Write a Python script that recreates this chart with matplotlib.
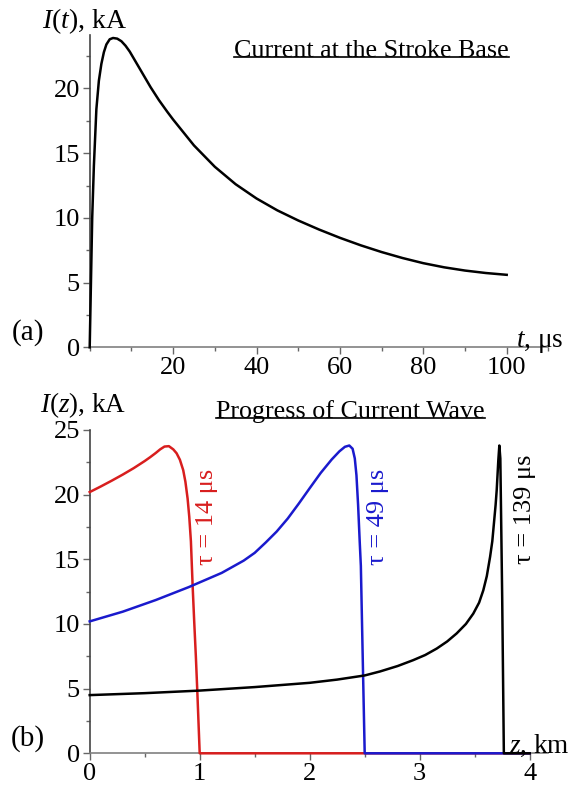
import matplotlib
matplotlib.use("Agg")
import matplotlib.pyplot as plt
from matplotlib.lines import Line2D
from matplotlib.ticker import MultipleLocator

plt.rcParams["font.family"] = ["Liberation Serif", "DejaVu Serif"]
plt.rcParams["mathtext.fontset"] = "custom"
plt.rcParams["mathtext.rm"] = "Liberation Serif"
plt.rcParams["mathtext.it"] = "Liberation Serif:italic"

# (a) current at the stroke base
t_us = [0, 0.3, 0.6, 1.0, 1.6, 2.2, 2.8, 3.4, 4.0, 4.8, 5.6, 6.6, 7.6, 8.6,
        9.6, 10.6, 11.6, 12.6, 13.6, 14.6, 15.6, 16.6, 17.6, 18.6, 20, 25,
        30, 35, 40, 45, 50, 55, 60, 65, 70, 75, 80, 85, 90, 95, 100]
I_base = [0, 5.0, 10.0, 14.0, 18.4, 20.6, 21.9, 22.8, 23.4, 23.8, 23.9, 23.85,
          23.65, 23.3, 22.85, 22.3, 21.75, 21.2, 20.65, 20.1, 19.6, 19.1,
          18.65, 18.2, 17.6, 15.6, 13.95, 12.6, 11.5, 10.58, 9.8, 9.1, 8.46,
          7.88, 7.36, 6.9, 6.5, 6.18, 5.93, 5.74, 5.6]

# (b) current wave along the channel at three moments
z_red = [0, 0.1, 0.2, 0.3, 0.4, 0.5, 0.55, 0.6, 0.64, 0.68, 0.72, 0.76, 0.79,
         0.82, 0.85, 0.87, 0.89, 0.905, 0.92, 0.936, 0.95, 0.965, 0.978, 0.99,
         1.0, 4.0]
I_red = [20.2, 20.63, 21.08, 21.55, 22.05, 22.6, 22.9, 23.22, 23.5, 23.72, 23.75,
         23.5, 23.2, 22.7, 21.9, 21.0, 19.7, 18.3, 16.4, 12.9, 10.2, 7.5, 4.85,
         2.2, 0, 0]

z_blue = [0, 0.3, 0.6, 0.9, 1.2, 1.4, 1.5, 1.6, 1.7, 1.8, 1.9, 2.0, 2.1, 2.2,
          2.27, 2.32, 2.36, 2.39, 2.41, 2.425, 2.44, 2.455, 2.465, 2.483, 2.5,
          4.0]
I_blue = [10.2, 10.95, 11.85, 12.85, 13.95, 14.9, 15.5, 16.3, 17.15, 18.15,
          19.3, 20.5, 21.68, 22.72, 23.35, 23.7, 23.8, 23.55, 22.8, 21.5, 19.2,
          16.3, 14.5, 7.0, 0, 0]

z_black = [0, 0.5, 1.0, 1.5, 2.0, 2.25, 2.5, 2.64, 2.8, 2.94, 3.05, 3.155,
           3.25, 3.336, 3.42, 3.487, 3.54, 3.578, 3.61, 3.64, 3.66, 3.675,
           3.69, 3.70, 3.715, 3.724, 3.733, 3.75, 3.765, 4.0]
I_black = [4.5, 4.65, 4.85, 5.12, 5.45, 5.7, 6.02, 6.33, 6.75, 7.2, 7.6, 8.1,
           8.65, 9.27, 10.0, 10.8, 11.65, 12.6, 13.7, 15.2, 16.4, 17.8, 19.2,
           20.35, 22.7, 23.8, 22.8, 12.0, 0, 0]

tau_labels = ["τ = 14 μs", "τ = 49 μs", "τ = 139 μs"]
tau_pos = [(1.066, 18.3), (2.625, 18.3), (3.957, 18.9)]
wave_colors = ["#d81e1e", "#1a1acd", "black"]

W, H = 575, 786
fig = plt.figure(figsize=(W / 100, H / 100), dpi=100)


def style_axes(ax):
    for s in ["top", "right"]:
        ax.spines[s].set_visible(False)
    ax.spines["left"].set_color("#444444")
    ax.spines["bottom"].set_color("#808080")
    ax.spines["left"].set_linewidth(1.2)
    ax.spines["bottom"].set_linewidth(1.2)
    ax.tick_params(which="major", length=5, width=1, color="#666666",
                   labelsize=19, pad=2)
    ax.tick_params(which="minor", length=3, width=1, color="#666666")
    ax.patch.set_alpha(0)


# ── panel (a) ──
ax1 = fig.add_axes([89.7 / W, 1 - 347.3 / H, 458.7 / W, 311.9 / H])
ax1.plot(t_us, I_base, color="black", lw=1.8, clip_on=False, zorder=3)
ax1.set_xlim(0, 110)
ax1.set_ylim(0, 24.1)
ax1.set_xticks([20, 40, 60, 80, 100])
ax1.set_yticks([0, 5, 10, 15, 20])
ax1.xaxis.set_minor_locator(MultipleLocator(10))
ax1.yaxis.set_minor_locator(MultipleLocator(2.5))
style_axes(ax1)

# ── panel (b) ──
ax2 = fig.add_axes([89.7 / W, 1 - 753.3 / H, 458.7 / W, 323.3 / H])
for zz, ii, c in zip([z_red, z_blue, z_black], [I_red, I_blue, I_black],
                     wave_colors):
    ax2.plot(zz, ii, color=c, lw=1.8, clip_on=False, zorder=3)
for lab, (zx, iy), c in zip(tau_labels, tau_pos, wave_colors):
    ax2.text(zx, iy, lab, color=c, fontsize=19, rotation=90,
             ha="center", va="center")
ax2.set_xlim(0, 4.17)
ax2.set_ylim(0, 25)
ax2.set_xticks([0, 1, 2, 3, 4])
ax2.set_yticks([0, 5, 10, 15, 20, 25])
ax2.xaxis.set_minor_locator(MultipleLocator(0.5))
ax2.yaxis.set_minor_locator(MultipleLocator(2.5))
style_axes(ax2)

# axis captions and panel letters
fig.text(85 / W, 1 - 21 / H, r"$I$($t$), kA", fontsize=20, ha="center", va="center")
fig.text(83 / W, 1 - 405 / H, r"$I$($z$), kA", fontsize=19.5, ha="center", va="center")
fig.text(563 / W, 1 - 347 / H, r"$t$, μs", fontsize=19.5, ha="right", va="baseline")
fig.text(570 / W, 1 - 753 / H, r"$z$, km", fontsize=19.5, ha="right", va="baseline")
fig.text(28 / W, 1 - 333 / H, "(a)", fontsize=21, ha="center", va="center")
fig.text(28 / W, 1 - 739 / H, "(b)", fontsize=21, ha="center", va="center")

titles = [
    fig.text(371.5 / W, 1 - 51 / H, "Current at the Stroke Base", fontsize=18.7,
             ha="center", va="center"),
    fig.text(350.8 / W, 1 - 412 / H, "Progress of Current Wave", fontsize=18.7,
             ha="center", va="center"),
]

# underline the two titles
fig.canvas.draw()
renderer = fig.canvas.get_renderer()
for txt in titles:
    bb = txt.get_window_extent(renderer)
    yl = bb.y0 + 0.22 * bb.height
    fig.add_artist(Line2D([bb.x0 / W, bb.x1 / W], [yl / H, yl / H],
                          transform=fig.transFigure, color="black", lw=1.2))

fig.savefig("out.png", dpi=100)
